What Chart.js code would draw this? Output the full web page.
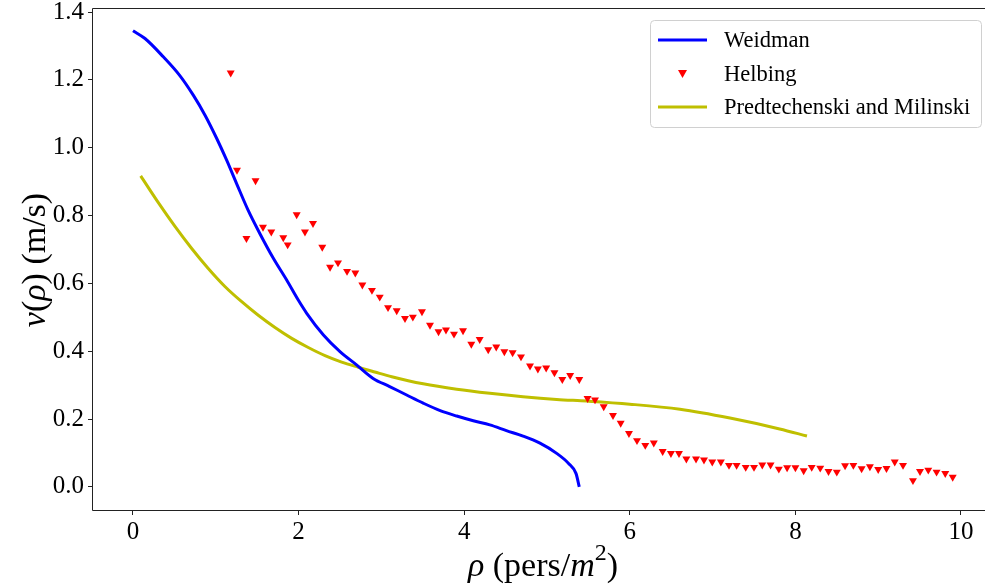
<!DOCTYPE html>
<html>
<head>
<meta charset="utf-8">
<script src="https://cdn.jsdelivr.net/npm/chart.js@4/dist/chart.umd.min.js"></script>
<style>
  html, body { margin: 0; padding: 0; background: #ffffff; }
  #wrap { width: 985px; height: 586px; }
</style>
</head>
<body>
<div id="wrap"><canvas id="c" width="985" height="586"></canvas></div>
<script>
// ---- Data ----
const weidmanX = [0, 0.145, 0.366, 0.568, 0.728, 0.87, 1.01, 1.13, 1.25, 1.39, 1.53, 1.695, 1.856, 1.996, 2.098, 2.30, 2.50, 2.70, 2.90, 3.10, 3.305, 3.505, 3.71, 3.91, 4.11, 4.31, 4.51, 4.71, 4.915, 5.117, 5.258, 5.35, 5.39];
const weidmanY = [1.345, 1.322, 1.268, 1.212, 1.155, 1.096, 1.028, 0.964, 0.895, 0.816, 0.748, 0.674, 0.610, 0.551, 0.512, 0.448, 0.399, 0.360, 0.320, 0.296, 0.271, 0.247, 0.225, 0.209, 0.195, 0.183, 0.166, 0.150, 0.129, 0.099, 0.070, 0.040, 0.0];

const helbingX = [1.18, 1.256, 1.37, 1.48, 1.57, 1.67, 1.815, 1.868, 1.977, 2.077, 2.174, 2.286, 2.38, 2.476, 2.585, 2.685, 2.77, 2.886, 2.98, 3.08, 3.185, 3.285, 3.38, 3.49, 3.587, 3.69, 3.78, 3.877, 3.986, 4.086, 4.187, 4.29, 4.387, 4.485, 4.585, 4.686, 4.795, 4.89, 4.99, 5.09, 5.185, 5.28, 5.39, 5.49, 5.58, 5.685, 5.797, 5.89, 5.99, 6.087, 6.187, 6.29, 6.397, 6.497, 6.594, 6.683, 6.80, 6.896, 6.996, 7.10, 7.198, 7.29, 7.40, 7.50, 7.60, 7.70, 7.80, 7.90, 8.00, 8.10, 8.197, 8.30, 8.40, 8.50, 8.60, 8.70, 8.80, 8.90, 9.00, 9.10, 9.20, 9.30, 9.42, 9.505, 9.605, 9.705, 9.81, 9.90];
const helbingY = [1.221, 0.934, 0.733, 0.903, 0.766, 0.752, 0.735, 0.714, 0.803, 0.752, 0.777, 0.707, 0.648, 0.661, 0.636, 0.631, 0.596, 0.580, 0.560, 0.529, 0.520, 0.497, 0.501, 0.517, 0.477, 0.458, 0.463, 0.451, 0.461, 0.421, 0.435, 0.405, 0.413, 0.399, 0.396, 0.384, 0.357, 0.348, 0.351, 0.337, 0.317, 0.329, 0.317, 0.261, 0.257, 0.237, 0.211, 0.188, 0.158, 0.137, 0.123, 0.130, 0.105, 0.099, 0.099, 0.083, 0.083, 0.080, 0.074, 0.074, 0.064, 0.064, 0.058, 0.058, 0.065, 0.065, 0.053, 0.057, 0.057, 0.048, 0.058, 0.056, 0.046, 0.044, 0.063, 0.064, 0.054, 0.060, 0.052, 0.055, 0.074, 0.064, 0.019, 0.046, 0.050, 0.044, 0.040, 0.029];

const predX = [0.093, 0.306, 0.507, 0.709, 0.909, 1.11, 1.313, 1.513, 1.715, 1.917, 2.117, 2.319, 2.52, 2.72, 2.92, 3.125, 3.505, 3.91, 4.31, 4.71, 5.117, 5.48, 6.00, 6.606, 7.21, 7.81, 8.14];
const predY = [0.917, 0.838, 0.768, 0.703, 0.644, 0.591, 0.546, 0.506, 0.470, 0.438, 0.411, 0.387, 0.368, 0.353, 0.339, 0.325, 0.304, 0.288, 0.276, 0.266, 0.258, 0.253, 0.244, 0.229, 0.203, 0.171, 0.150];

const xTicks = [0, 2, 4, 6, 8, 10];
const yTicks = [0.0, 0.2, 0.4, 0.6, 0.8, 1.0, 1.2, 1.4];
const seriesNames = ['Weidman', 'Helbing', 'Predtechenski and Milinski'];

// ---- Build ----
const toPts = (xs, ys) => xs.map((x, i) => ({ x: x, y: ys[i] }));
const SERIF = '"Liberation Serif", "DejaVu Serif", serif';
const BLUE = '#0000ff', RED = '#ff0000', YEL = '#bfbf00';

function drawRich(ctx, segs, size) {
  let total = 0;
  const parts = segs.map(s => {
    const fs = s.sup ? Math.round(size * 0.7) : size;
    const f = (s.i ? 'italic ' : '') + fs + 'px ' + SERIF;
    ctx.font = f;
    const w = ctx.measureText(s.t).width;
    total += w;
    return { s, f, w, dy: s.sup ? -size * 0.38 : 0 };
  });
  let x = -total / 2;
  ctx.textBaseline = 'middle';
  ctx.textAlign = 'left';
  parts.forEach(p => {
    ctx.font = p.f;
    ctx.fillText(p.s.t, x, p.dy);
    x += p.w;
  });
}

const framePlugin = {
  id: 'frameAndText',
  afterDraw(chart) {
    const ctx = chart.ctx, a = chart.chartArea;
    ctx.save();
    // spines (right spine lies outside the picture)
    ctx.strokeStyle = '#222';
    ctx.lineWidth = 1;
    const L = Math.round(a.left) - 0.5, T = Math.round(a.top) + 0.5, B = Math.round(a.bottom) + 0.5, R = Math.round(a.right) + 0.5;
    ctx.beginPath();
    ctx.moveTo(R, T); ctx.lineTo(L, T); ctx.lineTo(L, B); ctx.lineTo(R, B);
    ctx.stroke();
    ctx.fillStyle = '#000';
    // x title
    ctx.save();
    ctx.translate(543, 567);
    drawRich(ctx, [{ t: 'ρ', i: true }, { t: ' (pers/' }, { t: 'm', i: true }, { t: '2', sup: true }, { t: ')' }], 34);
    ctx.restore();
    // y title
    ctx.save();
    ctx.translate(36, 260);
    ctx.rotate(-Math.PI / 2);
    drawRich(ctx, [{ t: 'v', i: true }, { t: '(' }, { t: 'ρ', i: true }, { t: ') (m/s)' }], 34);
    ctx.restore();
    // legend
    const bx = 650.5, by = 20.5, bw = 331, bh = 107, r = 4;
    ctx.fillStyle = 'rgba(255,255,255,0.85)';
    ctx.strokeStyle = '#d0d0d0';
    ctx.lineWidth = 1;
    ctx.beginPath();
    ctx.moveTo(bx + r, by);
    ctx.lineTo(bx + bw - r, by); ctx.arcTo(bx + bw, by, bx + bw, by + r, r);
    ctx.lineTo(bx + bw, by + bh - r); ctx.arcTo(bx + bw, by + bh, bx + bw - r, by + bh, r);
    ctx.lineTo(bx + r, by + bh); ctx.arcTo(bx, by + bh, bx, by + bh - r, r);
    ctx.lineTo(bx, by + r); ctx.arcTo(bx, by, bx + r, by, r);
    ctx.closePath(); ctx.fill(); ctx.stroke();
    const rows = [40, 74, 107];
    ctx.lineWidth = 3;
    ctx.strokeStyle = BLUE;
    ctx.beginPath(); ctx.moveTo(658, rows[0]); ctx.lineTo(707, rows[0]); ctx.stroke();
    ctx.strokeStyle = YEL;
    ctx.beginPath(); ctx.moveTo(658, rows[2]); ctx.lineTo(707, rows[2]); ctx.stroke();
    ctx.fillStyle = RED;
    ctx.beginPath(); ctx.moveTo(678, 70); ctx.lineTo(687, 70); ctx.lineTo(682.5, 78); ctx.closePath(); ctx.fill();
    ctx.fillStyle = '#000';
    ctx.font = '22.5px ' + SERIF;
    ctx.textAlign = 'left';
    ctx.textBaseline = 'middle';
    seriesNames.forEach((n, i) => ctx.fillText(n, 724, rows[i] + 1));
    ctx.restore();
  }
};

const tickFont = { family: SERIF, size: 25 };

new Chart(document.getElementById('c'), {
  type: 'scatter',
  data: {
    datasets: [
      { label: seriesNames[0], data: toPts(weidmanX, weidmanY), showLine: true, borderColor: BLUE, borderWidth: 3, pointRadius: 0, pointHoverRadius: 0, cubicInterpolationMode: 'monotone', fill: false },
      { label: seriesNames[1], data: toPts(helbingX, helbingY), showLine: false, pointStyle: 'triangle', rotation: 180, pointRadius: 4.6, pointHoverRadius: 4.6, backgroundColor: RED, borderColor: RED, borderWidth: 0 },
      { label: seriesNames[2], data: toPts(predX, predY), showLine: true, borderColor: YEL, borderWidth: 3, pointRadius: 0, pointHoverRadius: 0, cubicInterpolationMode: 'monotone', fill: false }
    ]
  },
  options: {
    responsive: false,
    animation: false,
    devicePixelRatio: 1,
    layout: { autoPadding: false, padding: { top: 8, right: 0, left: 0, bottom: 0 } },
    plugins: { legend: { display: false }, tooltip: { enabled: false } },
    scales: {
      x: {
        type: 'linear', min: -0.483, max: 10.29,
        afterBuildTicks: s => { s.ticks = xTicks.map(v => ({ value: v })); },
        afterFit: s => { s.height = 76; s.paddingLeft = 0; s.paddingRight = 0; },
        ticks: { font: tickFont, color: '#000', padding: 2, callback: v => String(v), maxRotation: 0 },
        grid: { display: true, drawOnChartArea: false, drawTicks: true, tickLength: 5, color: '#222' },
        border: { display: false }
      },
      y: {
        type: 'linear', min: -0.068, max: 1.412,
        afterBuildTicks: s => { s.ticks = yTicks.map(v => ({ value: v })); },
        afterFit: s => { s.width = 93; s.paddingTop = 0; s.paddingBottom = 0; },
        ticks: { font: tickFont, color: '#000', padding: 4, callback: v => Number(v).toFixed(1) },
        grid: { display: true, drawOnChartArea: false, drawTicks: true, tickLength: 5, color: '#222' },
        border: { display: false }
      }
    }
  },
  plugins: [framePlugin]
});
</script>
</body>
</html>
